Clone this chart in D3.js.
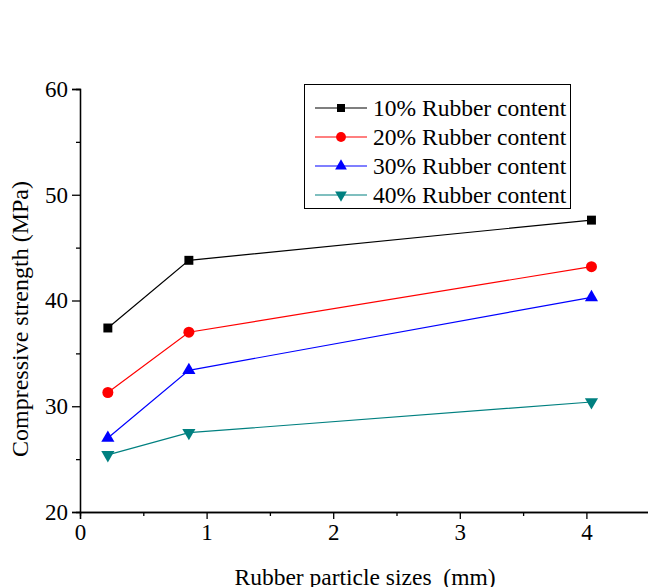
<!DOCTYPE html>
<html>
<head>
<meta charset="utf-8">
<script src="https://cdn.jsdelivr.net/npm/d3@7"></script>
<style>
  body { margin: 0; background: #fff; }
  text { font-family: "Liberation Serif", "Times New Roman", serif; fill: #000; }
</style>
</head>
<body>
<div id="chart"></div>
<script>
// particle sizes (mm)
var sizes = [0.22, 0.86, 4.04];
// compressive strength (MPa) per rubber content
var rubber10 = [37.4, 43.8, 47.6];
var rubber20 = [31.3, 37.0, 43.2];
var rubber30 = [27.0, 33.4, 40.3];
var rubber40 = [25.4, 27.5, 30.4];
var seriesNames = ['10% Rubber content', '20% Rubber content', '30% Rubber content', '40% Rubber content'];
var xTicks = [0, 1, 2, 3, 4];
var yTicks = [20, 30, 40, 50, 60];

var width = 648, height = 587;

var series = [
    { name: seriesNames[0], values: rubber10, color: '#000000', symbol: d3.symbolSquare, size: 80, rot: 0 },
    { name: seriesNames[1], values: rubber20, color: '#ff0000', symbol: d3.symbolCircle, size: 95, rot: 0 },
    { name: seriesNames[2], values: rubber30, color: '#0000ff', symbol: d3.symbolTriangle, size: 75, rot: 0 },
    { name: seriesNames[3], values: rubber40, color: '#008080', symbol: d3.symbolTriangle, size: 75, rot: 180 }
];

var svg = d3.select('#chart').append('svg')
    .attr('width', width)
    .attr('height', height);

var x = d3.scaleLinear().domain([0, 4.5]).range([80, 80 + 4.5 * 126.6]);
var y = d3.scaleLinear().domain([20, 60]).range([512, 89]);

// axes, major + minor ticks
var xAxis = d3.axisBottom(x).tickValues(xTicks).tickSize(7).tickPadding(5).tickFormat(d3.format('d'));
var xMinor = d3.axisBottom(x).tickValues([0.5, 1.5, 2.5, 3.5]).tickSize(4).tickFormat('');
var yAxis = d3.axisLeft(y).tickValues(yTicks).tickSize(8).tickPadding(4).tickFormat(d3.format('d'));
var yMinor = d3.axisLeft(y).tickValues([25, 35, 45, 55]).tickSize(4).tickFormat('');

function styleAxis(g) {
    g.select('.domain').attr('stroke', '#000').attr('stroke-width', 1.3);
    g.selectAll('.tick line').attr('stroke', '#000').attr('stroke-width', 1.3);
    g.selectAll('.tick text')
        .style('font-family', '"Liberation Serif", "Times New Roman", serif')
        .style('font-size', '23px')
        .attr('fill', '#000');
}

svg.append('g').attr('transform', 'translate(0,512)').call(xMinor).call(styleAxis);
svg.append('g').attr('transform', 'translate(0,512)').call(xAxis).call(styleAxis);
svg.append('g').attr('transform', 'translate(80,0)').call(yMinor).call(styleAxis);
svg.append('g').attr('transform', 'translate(80,0)').call(yAxis).call(styleAxis);

// axis titles
svg.append('text')
    .attr('x', 365)
    .attr('y', 585)
    .attr('text-anchor', 'middle')
    .style('font-size', '23.5px')
    .style('white-space', 'pre')
    .text('Rubber particle sizes  (mm)');

svg.append('text')
    .attr('transform', 'translate(28,319) rotate(-90)')
    .attr('text-anchor', 'middle')
    .style('font-size', '24px')
    .text('Compressive strength (MPa)');

// lines and markers
var line = d3.line()
    .x(function(d, i) { return x(sizes[i]); })
    .y(function(d) { return y(d); });

series.forEach(function(s) {
    svg.append('path')
        .datum(s.values)
        .attr('d', line)
        .attr('fill', 'none')
        .attr('stroke', s.color)
        .attr('stroke-width', 1.2);
    svg.selectAll(null)
        .data(s.values)
        .enter()
        .append('path')
        .attr('d', d3.symbol().type(s.symbol).size(s.size))
        .attr('transform', function(d, i) {
            return 'translate(' + x(sizes[i]) + ',' + y(d) + ') rotate(' + s.rot + ')';
        })
        .attr('fill', s.color);
});

// legend
var legend = svg.append('g');
legend.append('rect')
    .attr('x', 304.5)
    .attr('y', 84.5)
    .attr('width', 266)
    .attr('height', 124)
    .attr('fill', '#fff')
    .attr('stroke', '#000')
    .attr('stroke-width', 1);

series.forEach(function(s, i) {
    var ly = 108 + i * 29;
    legend.append('line')
        .attr('x1', 315).attr('x2', 367)
        .attr('y1', ly).attr('y2', ly)
        .attr('stroke', s.color)
        .attr('stroke-width', 1.2);
    legend.append('path')
        .attr('d', d3.symbol().type(s.symbol).size(s.size * 0.8))
        .attr('transform', 'translate(341,' + ly + ') rotate(' + s.rot + ')')
        .attr('fill', s.color);
    legend.append('text')
        .attr('x', 373)
        .attr('y', ly + 8)
        .style('font-size', '23.5px')
        .text(s.name);
});
</script>
</body>
</html>
